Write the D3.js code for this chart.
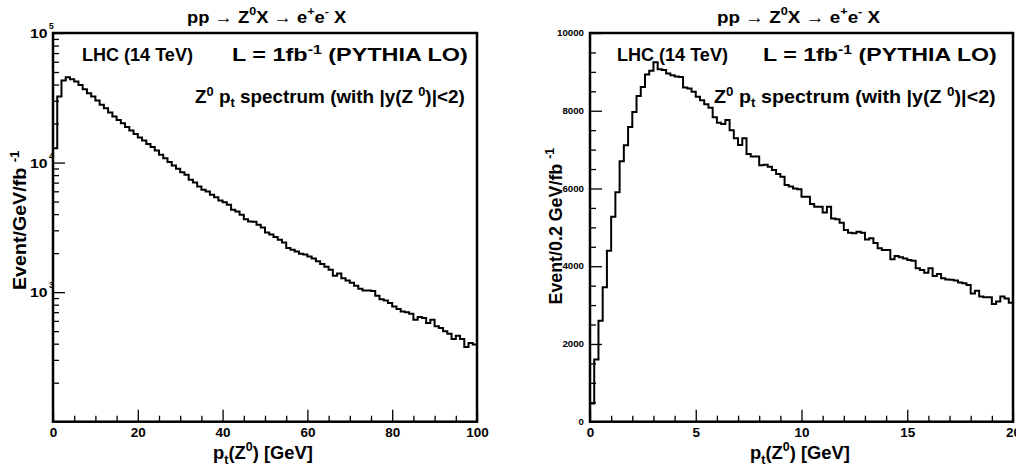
<!DOCTYPE html>
<html lang="en">
<head>
<meta charset="UTF-8">
<title>Z0 pt spectrum at the LHC</title>
<script src="https://d3js.org/d3.v7.min.js"></script>
<style>
  body { margin: 0; background: #fff; }
  svg { display: block; font-family: "Liberation Sans", Arial, Helvetica, sans-serif; font-weight: bold; }
</style>
</head>
<body>
<div id="chart"></div>
<script>
// left pad: Event/GeV/fb^-1, 1 GeV bins from 0 to 100 GeV
const leftRange = [0, 100];
const leftCounts = [
  12900, 32300, 43000, 45500, 44000, 42200, 39700, 36800, 34300, 32300,
  30100, 27900, 26200, 24300, 22700, 21300, 20100, 18800, 17700, 16600,
  15600, 14800, 13900, 13200, 12400, 11500, 10800, 10100, 9510, 8950,
  8430, 8040, 7360, 7020, 6530, 6170, 5980, 5640, 5410, 5090,
  4940, 4720, 4320, 4190, 3950, 3660, 3510, 3490, 3310, 3160,
  2880, 2790, 2660, 2540, 2420, 2190, 2120, 2060, 1980, 1950,
  1880, 1820, 1730, 1650, 1570, 1490, 1340, 1390, 1280, 1230,
  1180, 1120, 1060, 1030, 1030, 1020, 938, 883, 863, 824,
  776, 740, 710, 698, 681, 612, 643, 631, 577, 612,
  545, 528, 498, 478, 435, 461, 435, 377, 405, 394
];
// right pad: Event/0.2 GeV/fb^-1, 0.2 GeV bins from 0 to 20 GeV
const rightRange = [0, 20];
const rightCounts = [
  470, 1600, 2600, 3460, 4400, 5270, 5900, 6700, 7110, 7580,
  7970, 8380, 8610, 8930, 9030, 9250, 9070, 9050, 8960, 8910,
  8880, 8870, 8600, 8570, 8490, 8360, 8270, 8170, 8080, 7830,
  7690, 7660, 7760, 7500, 7290, 7120, 7290, 6890, 6820, 6820,
  6600, 6610, 6560, 6475, 6370, 6300, 6090, 6050, 6000, 5980,
  5790, 5790, 5600, 5530, 5530, 5380, 5530, 5230, 5210, 5120,
  4930, 4860, 4850, 4890, 4860, 4690, 4720, 4600, 4460, 4420,
  4420, 4180, 4260, 4230, 4200, 4160, 4140, 3950, 3900, 3830,
  3950, 3750, 3800, 3690, 3660, 3650, 3630, 3580, 3560, 3520,
  3300, 3370, 3220, 3200, 3200, 3030, 3090, 3220, 3170, 3060
];

// tick values
const leftXMajor = [0, 20, 40, 60, 80, 100];
const leftXMinor = [5, 10, 15, 25, 30, 35, 45, 50, 55, 65, 70, 75, 85, 90, 95];
const leftYDomain = [100, 100000];
const leftYMajor = [1000, 10000, 100000];
const leftYExp = ['3', '4', '5'];
const rightXMajor = [0, 5, 10, 15, 20];
const rightXMinor = [1, 2, 3, 4, 6, 7, 8, 9, 11, 12, 13, 14, 16, 17, 18, 19];
const rightYMajor = [0, 2000, 4000, 6000, 8000, 10000];
const rightYMinor = [500, 1000, 1500, 2500, 3000, 3500, 4500, 5000, 5500, 6500, 7000, 7500, 8500, 9000, 9500];

// texts: [string, '' | 'sup' | 'sub']
const titleText = [['pp \u2192 Z', ''], ['0', 'sup'], ['X \u2192 e', ''], ['+', 'sup'], ['e', ''], ['-', 'sup'], [' X', '']];
const lhcText = [['LHC (14 TeV)', '']];
const lumiText = [['L = 1fb', ''], ['-1', 'sup'], [' (PYTHIA LO)', '']];
const specText = [['Z', ''], ['0', 'sup'], [' p', ''], ['t', 'sub'], [' spectrum (with |y(Z ', ''], ['0', 'sup'], [')|<2)', '']];
const xTitleText = [['p', ''], ['t', 'sub'], ['(Z', ''], ['0', 'sup'], [') [GeV]', '']];
const yTitleLeft = [['Event/GeV/fb ', ''], ['-1', 'sup']];
const yTitleRight = [['Event/0.2 GeV/fb ', ''], ['-1', 'sup']];

const W = 1016, H = 470;
const svg = d3.select('#chart').append('svg').attr('width', W).attr('height', H);

// text with super/subscripts, optionally stretched to a given width
function richText(x, y, parts, size, opts = {}) {
    const g = svg.append('g')
        .attr('transform', `translate(${x},${y}) rotate(${opts.rotate || 0})`);
    const t = g.append('text').attr('font-size', size).attr('fill', '#000');
    let shift = 0;
    parts.forEach(([s, m]) => {
        const target = m === 'sup' ? -0.42 * size : m === 'sub' ? 0.25 * size : 0;
        t.append('tspan')
            .attr('dy', target - shift)
            .attr('font-size', m ? size * 0.68 : size)
            .text(s);
        shift = target;
    });
    const w = t.node().getBBox().width;
    const width = opts.width || w;
    const s = width / w;
    const off = opts.anchor === 'middle' ? -width / 2 : opts.anchor === 'end' ? -width : 0;
    t.attr('transform', `translate(${off},0) scale(${s},1)`);
    return g;
}

function stepPoints(counts, range, floor) {
    const bw = (range[1] - range[0]) / counts.length;
    const pts = [[range[0], floor]];
    counts.forEach((c, i) => {
        pts.push([range[0] + i * bw, c]);
        pts.push([range[0] + (i + 1) * bw, c]);
    });
    pts.push([range[1], floor]);
    return pts;
}

function drawPad(cfg) {
    const { left, right, top, bottom } = cfg.box;
    const x = d3.scaleLinear().domain(cfg.xRange).range([left, right]);
    const y = cfg.y.range([bottom, top]);

    const clipId = 'clip' + cfg.id;
    svg.append('clipPath').attr('id', clipId)
        .append('rect').attr('x', left).attr('y', top)
        .attr('width', right - left).attr('height', bottom - top);

    // histogram outline
    const line = d3.line().x(d => x(d[0])).y(d => y(d[1]));
    svg.append('path')
        .datum(stepPoints(cfg.counts, cfg.xRange, cfg.y.domain()[0]))
        .attr('clip-path', `url(#${clipId})`)
        .attr('fill', 'none')
        .attr('stroke', '#000')
        .attr('stroke-width', 2)
        .attr('d', line);

    // x axis: minor and major ticks pointing inside
    const xMinor = svg.append('g').attr('transform', `translate(0,${bottom})`)
        .call(d3.axisBottom(x).tickValues(cfg.xMinor).tickSize(-6).tickFormat(''));
    const xMajor = svg.append('g').attr('transform', `translate(0,${bottom})`)
        .call(d3.axisBottom(x).tickValues(cfg.xMajor).tickSize(-12).tickPadding(6).tickFormat(d3.format('d')));
    [xMinor, xMajor].forEach(a => {
        a.select('.domain').remove();
        a.selectAll('line').attr('stroke-width', 1.3);
    });
    xMajor.attr('font-family', null);
    xMajor.selectAll('text').attr('font-size', 13.5).attr('fill', '#000');

    // y axis
    const yMinor = svg.append('g').attr('transform', `translate(${left},0)`)
        .call(d3.axisLeft(y).tickValues(cfg.yMinor).tickSize(-6).tickFormat(''));
    const yMajor = svg.append('g').attr('transform', `translate(${left},0)`)
        .call(d3.axisLeft(y).tickValues(cfg.yMajor).tickSize(-12).tickPadding(6)
            .tickFormat(cfg.yLabelFormat || ''));
    [yMinor, yMajor].forEach(a => {
        a.select('.domain').remove();
        a.selectAll('line').attr('stroke-width', 1.3);
    });
    yMajor.attr('font-family', null);
    yMajor.selectAll('text')
        .attr('font-size', 8.5).attr('fill', '#000')
        .attr('textLength', function () { return this.textContent.length * 5.4; })
        .attr('lengthAdjust', 'spacingAndGlyphs');

    // frame
    svg.append('rect')
        .attr('x', left).attr('y', top)
        .attr('width', right - left).attr('height', bottom - top)
        .attr('fill', 'none').attr('stroke', '#000').attr('stroke-width', 2.5);

    return { x, y };
}

// ---- left pad (log scale)
const leftPad = drawPad({
    id: 'L',
    box: { left: 53, right: 477, top: 33, bottom: 421.7 },
    xRange: leftRange,
    y: d3.scaleLog().domain(leftYDomain),
    counts: leftCounts,
    xMajor: leftXMajor, xMinor: leftXMinor,
    yMajor: leftYMajor,
    yMinor: [2, 3, 4, 5, 6, 7, 8, 9].flatMap(m => [m * 100, m * 1000, m * 10000])
});
leftYMajor.forEach((v, i) => {
    const yy = leftPad.y(v);
    svg.append('text').attr('x', 30).attr('y', yy + 5)
        .attr('font-size', 13.5).attr('textLength', 17.5).attr('lengthAdjust', 'spacingAndGlyphs')
        .text('10');
    svg.append('text').attr('x', 49).attr('y', yy - 4)
        .attr('font-size', 8.5).text(leftYExp[i]);
});

// ---- right pad (linear scale)
drawPad({
    id: 'R',
    box: { left: 590, right: 1013, top: 33, bottom: 421.7 },
    xRange: rightRange,
    y: d3.scaleLinear().domain([0, 10000]),
    counts: rightCounts,
    xMajor: rightXMajor, xMinor: rightXMinor,
    yMajor: rightYMajor, yMinor: rightYMinor,
    yLabelFormat: d3.format('d')
});

// ---- titles and annotations
richText(267, 22.5, titleText, 17, { anchor: 'middle', width: 160 });
richText(799, 22.5, titleText, 17, { anchor: 'middle', width: 164 });

richText(82, 61, lhcText, 17.5, { width: 111 });
richText(617, 61, lhcText, 17.5, { width: 111 });
richText(232, 61, lumiText, 17.5, { width: 236 });
richText(763, 61, lumiText, 17.5, { width: 234 });
richText(195, 103, specText, 17.5, { width: 270 });
richText(714, 103, specText, 17.5, { width: 282 });

richText(263, 459, xTitleText, 18, { anchor: 'middle', width: 100 });
richText(800, 459, xTitleText, 18, { anchor: 'middle', width: 100 });

richText(26, 220, yTitleLeft, 17.5, { anchor: 'middle', width: 140, rotate: -90 });
richText(561.5, 226, yTitleRight, 17.5, { anchor: 'middle', width: 157, rotate: -90 });
</script>
</body>
</html>
